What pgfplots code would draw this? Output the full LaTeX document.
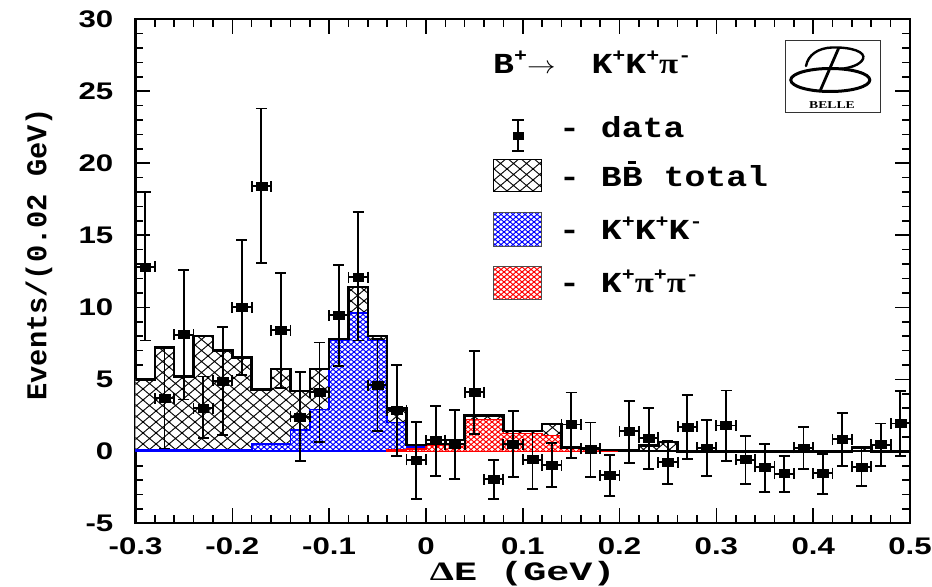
\documentclass[border=0pt]{standalone}
\usepackage{fontspec}
\usepackage{graphicx}
\usepackage{pgfplots}
\pgfplotsset{compat=1.18}
\usepackage{pgfplotstable}
\usetikzlibrary{patterns}

\newfontfamily\tickfont{Liberation Sans}[FakeStretch=1.3]
\newfontfamily\cour{Liberation Mono}[FakeStretch=1.2]
\newfontfamily\courX{Liberation Mono}[FakeStretch=1.45]
\newfontfamily\courY{Liberation Mono}
\newfontfamily\grk{Liberation Serif}[FakeStretch=1.2]
\newfontfamily\grkX{Liberation Serif}[FakeStretch=1.45]
\newfontfamily\bellefont{Liberation Serif}[FakeStretch=1.3]

\newcommand\legfont{\cour\bfseries\fontsize{29bp}{30bp}\selectfont}
\newcommand\supx[1]{\raisebox{0.42em}{\fontsize{18bp}{18bp}\selectfont #1}}
\newcommand\pig{{\grk\bfseries π}}
\newcommand\Bbar{\ooalign{B\cr\hidewidth\raisebox{23bp}{\rule{8bp}{2.6bp}}\hidewidth\cr}}

% coarse diagonal cross-hatching (total background)
\pgfdeclarepatternformonly{bbx}{\pgfqpoint{-1bp}{-1bp}}{\pgfqpoint{14bp}{12bp}}{\pgfqpoint{13bp}{11bp}}{%
  \pgfsetlinewidth{0.9bp}%
  \pgfpathmoveto{\pgfqpoint{-1bp}{-0.846bp}}\pgfpathlineto{\pgfqpoint{14bp}{11.846bp}}%
  \pgfpathmoveto{\pgfqpoint{-1bp}{11.846bp}}\pgfpathlineto{\pgfqpoint{14bp}{-0.846bp}}%
  \pgfusepath{stroke}}
% fine diagonal cross-hatching (individual channels)
\pgfdeclarepatternformonly{finex}{\pgfqpoint{-1bp}{-1bp}}{\pgfqpoint{7bp}{6bp}}{\pgfqpoint{6bp}{5bp}}{%
  \pgfsetlinewidth{0.9bp}%
  \pgfpathmoveto{\pgfqpoint{-1bp}{-0.833bp}}\pgfpathlineto{\pgfqpoint{7bp}{5.833bp}}%
  \pgfpathmoveto{\pgfqpoint{-1bp}{5.833bp}}\pgfpathlineto{\pgfqpoint{7bp}{-0.833bp}}%
  \pgfusepath{stroke}}

% Delta E histograms, left bin edges (last row closes the final bin)
% total BBbar background
\pgfplotstableread{
x v
-0.30 5.0
-0.28 7.2
-0.26 5.2
-0.24 8.0
-0.22 7.0
-0.20 6.5
-0.18 4.3
-0.16 5.7
-0.14 4.2
-0.12 5.7
-0.10 7.8
-0.08 11.4
-0.06 8.0
-0.04 3.0
-0.02 0.44
0.00 0.5
0.02 0.8
0.04 2.5
0.06 2.5
0.08 1.4
0.10 1.4
0.12 1.9
0.14 0.25
0.16 0.2
0.18 0.1
0.20 0.05
0.22 0.4
0.24 0.65
0.26 0
0.28 0
0.30 0
0.32 0
0.34 0
0.36 0
0.38 0
0.40 0
0.42 0
0.44 0.25
0.46 0
0.48 0
0.50 0
}\tot
% K+K+K- component
\pgfplotstableread{
x v
-0.30 0.10
-0.28 0.10
-0.26 0.10
-0.24 0.10
-0.22 0.10
-0.20 0.10
-0.18 0.50
-0.16 0.50
-0.14 1.50
-0.12 2.90
-0.10 7.70
-0.08 9.60
-0.06 7.70
-0.04 2.00
-0.02 0.32
0.00 0.20
0.02 0.15
0.04 0.10
0.06 0.10
0.08 0.10
0.10 0.10
0.12 0.10
0.14 0.05
0.16 0.05
0.18 0.02
0.20 0.02
}\blu
% K+pi+pi- component
\pgfplotstableread{
x v
-0.04 0.08
-0.02 0.15
0.00 0.40
0.02 0.50
0.04 2.20
0.06 2.20
0.08 1.25
0.10 1.25
0.12 1.10
0.14 0.20
0.16 0.15
0.18 0.08
0.20 0.08
}\red

% data: bin centre, events, upper and lower errors
\pgfplotstableread{
x y ep em
-0.29 12.8 5.2 5.1
-0.27 3.7 3.5 3.5
-0.25 8.1 4.5 4.5
-0.23 3.0 2.2 2.1
-0.21 4.9 3.75 3.75
-0.19 10.0 4.7 4.7
-0.17 18.4 5.4 5.3
-0.15 8.4 4.0 4.0
-0.13 2.4 3.1 3.1
-0.11 4.1 3.45 3.45
-0.09 9.45 3.5 3.55
-0.07 12.1 4.5 4.4
-0.05 4.6 3.2 3.2
-0.03 2.85 3.15 3.15
-0.01 -0.6 2.65 2.7
0.01 0.77 2.36 2.46
0.03 0.5 2.35 2.4
0.05 4.1 2.86 2.92
0.07 -1.93 1.35 1.37
0.09 0.5 2.28 2.29
0.11 -0.58 2.0 2.02
0.13 -0.97 1.55 1.51
0.15 1.86 2.22 2.3
0.17 0.17 1.83 1.96
0.19 -1.67 1.44 1.43
0.21 1.39 2.11 2.18
0.23 0.93 2.07 2.16
0.25 -0.77 1.49 1.5
0.27 1.69 2.21 2.2
0.29 0.25 1.9 1.97
0.31 1.79 2.43 2.49
0.33 -0.58 1.65 1.69
0.35 -1.09 1.62 1.74
0.37 -1.55 1.2 1.3
0.39 0.23 1.44 1.46
0.41 -1.51 1.35 1.44
0.43 0.83 1.84 1.85
0.45 -1.07 1.26 1.32
0.47 0.46 1.47 1.48
0.49 1.93 2.25 2.26
}\pts

\begin{document}
\begin{tikzpicture}
\begin{axis}[
  scale only axis, width=774.5bp, height=504bp,
  xmin=-0.3, xmax=0.5, ymin=-5, ymax=30,
  xtick={-0.3,-0.2,-0.1,0,0.1,0.2,0.3,0.4,0.5},
  xticklabels={-0.3,-0.2,-0.1,0,0.1,0.2,0.3,0.4,0.5},
  ytick={-5,0,5,10,15,20,25,30},
  yticklabels={-5,0,5,10,15,20,25,30},
  minor x tick num=4, minor y tick num=4,
  tick align=inside, tick pos=both,
  xticklabel pos=lower, yticklabel pos=left,
  major tick length=15bp, minor tick length=8bp,
  every tick/.style={black, line width=1.6bp},
  axis line style={line width=2.2bp},
  tick label style={font=\tickfont\bfseries\fontsize{24bp}{24bp}\selectfont, inner sep=0pt},
  xticklabel style={anchor=north, yshift=-14bp},
  yticklabel style={anchor=east, xshift=-22bp},
  xlabel={{\grkX\bfseries Δ}E (GeV)},
  ylabel={Events/(0.02 GeV)},
  xlabel style={font=\courX\bfseries\fontsize{26.5bp}{27bp}\selectfont,
    at={(axis description cs:0.5,-0.1135)}, anchor=base, inner sep=0pt},
  ylabel style={font=\courY\bfseries\fontsize{28.7bp}{29bp}\selectfont,
    at={(axis description cs:-0.1246,0.534)}, anchor=center},
]
% total BBbar background
\addplot[const plot, draw=none, fill=white, postaction={pattern=bbx}]
  table[x=x, y=v]{\tot} \closedcycle;
\addplot[black, line width=2bp] coordinates {(-0.3,0) (0.5,0)};
% K+K+K- component
\addplot[const plot, draw=blue, line width=1.8bp, fill=white,
  postaction={pattern=finex, pattern color=blue}]
  table[x=x, y=v]{\blu} \closedcycle;
% K+pi+pi- component
\addplot[const plot, draw=red, line width=1.5bp, fill=white,
  postaction={pattern=finex, pattern color=red}]
  table[x=x, y=v]{\red} \closedcycle;
% total outline
\addplot[const plot, black, line width=2.5bp] table[x=x, y=v]{\tot};
% data points
\addplot[only marks, black, mark=square*, mark size=4bp,
  mark options={xscale=1.35, fill=black, draw=black},
  error bars/.cd, x dir=both, x fixed=0.01, y dir=both, y explicit,
  error bar style={line width=1.8bp, black},
  error mark options={rotate=90, mark size=5.5bp, line width=1.8bp, black}]
  table[x=x, y=y, y error plus=ep, y error minus=em]{\pts};
\end{axis}

\begin{scope}[x=1bp, y=-1bp, shift={(-135.5bp,523.3bp)}]
  % decay label
  \node[anchor=base west, inner sep=0pt] at (493,73.3)
    {\legfont B\supx{+}\scalebox{1.15}[1]{$\rightarrow$}\hspace{36bp}K\supx{+}K\supx{+}\pig\supx{-}};
  % legend: data
  \draw[line width=1.8bp] (518,120) -- (518,151) (512,120) -- (524,120) (512,151) -- (524,151);
  \fill (512.5,132) rectangle (523.5,140);
  \node[anchor=base west, inner sep=0pt] at (559,138) {\legfont - data};
  % legend: BBbar total
  \filldraw[fill=white, draw=black, line width=1bp, postaction={pattern=bbx}] (493,160) rectangle (541,192);
  \draw[line width=1bp] (493,160) rectangle (541,192);
  \node[anchor=base west, inner sep=0pt] at (559,187) {\legfont - B\Bbar\ total};
  % legend: K+K+K-
  \filldraw[fill=white, draw=black!70, line width=1bp, postaction={pattern=finex, pattern color=blue}] (493,213) rectangle (541,247);
  \draw[black!70, line width=1bp] (493,213) rectangle (541,247);
  \node[anchor=base west, inner sep=0pt] at (559,240) {\legfont - K\supx{+}K\supx{+}K\supx{-}};
  % legend: K+pi+pi-
  \filldraw[fill=white, draw=black!70, line width=1bp, postaction={pattern=finex, pattern color=red}] (493,267) rectangle (541,300);
  \draw[black!70, line width=1bp] (493,267) rectangle (541,300);
  \node[anchor=base west, inner sep=0pt] at (559,293) {\legfont - K\supx{+}\pig\supx{+}\pig\supx{-}};
  % experiment logo
  \draw[line width=0.8bp, black!80] (785,40) rectangle (880,112);
  \draw[line width=2.8bp, line cap=round] (838.5,48.5) -- (820.5,90);
  \draw[line width=2.4bp, line cap=round] (806,66) .. controls (808,55) and (818,48) .. (832,47.5)
     .. controls (852,47) and (866,52) .. (863,59) .. controls (860,65) and (850,68) .. (840,69);
  \draw[line width=3bp] (830.3,80) ellipse [x radius=39.5, y radius=11.5];
  \node[font=\bellefont\bfseries\fontsize{10.5bp}{11bp}\selectfont, inner sep=0pt] at (832,105) {BELLE};
  \pgfresetboundingbox
  \path (0,0) rectangle (932,587);
\end{scope}
\end{tikzpicture}
\end{document}
